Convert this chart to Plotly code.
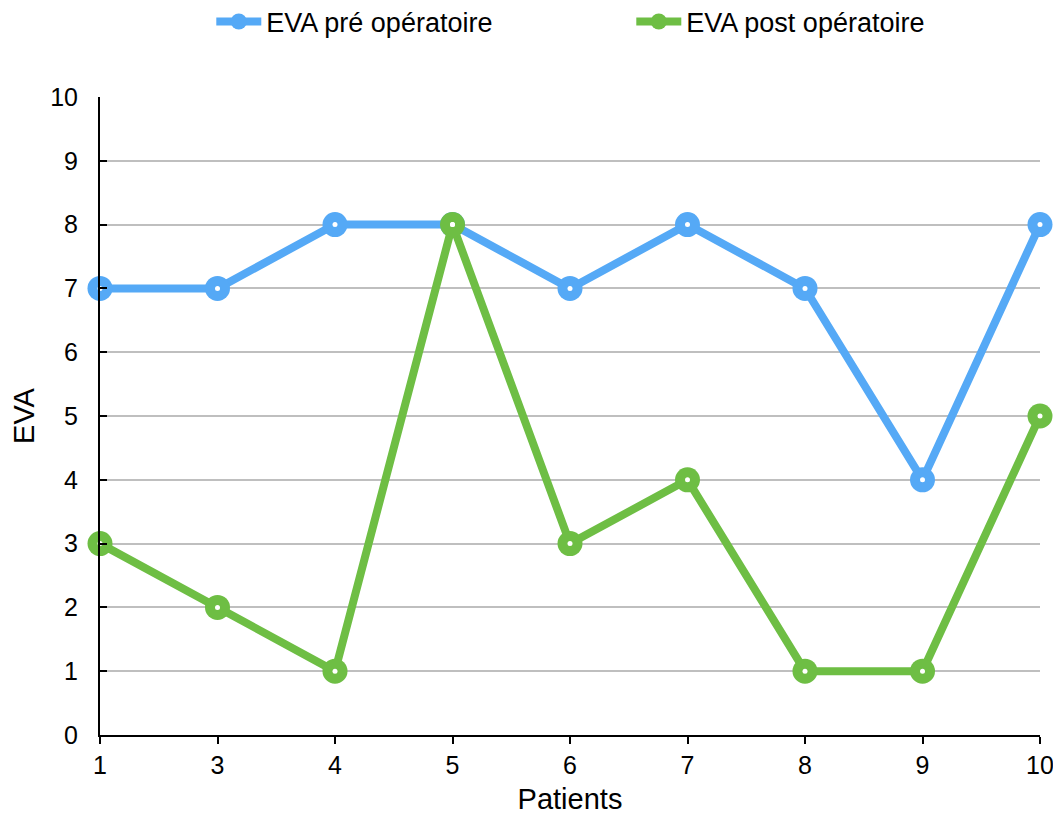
import plotly.graph_objects as go

patients = ["1", "3", "4", "5", "6", "7", "8", "9", "10"]
eva_pre = [7, 7, 8, 8, 7, 8, 7, 4, 8]
eva_post = [3, 2, 1, 8, 3, 4, 1, 1, 5]
y_ticks = list(range(0, 11))

blue = "#55A9F6"
green = "#6EBE44"
font = "Liberation Sans, Arial, sans-serif"

fig = go.Figure()
for name, vals, col in [("EVA pré opératoire", eva_pre, blue),
                        ("EVA post opératoire", eva_post, green)]:
    fig.add_trace(go.Scatter(x=patients, y=vals, name=name, mode="lines+markers",
                             cliponaxis=False,
                             line=dict(color=col, width=8),
                             marker=dict(symbol="circle", size=25, color=col,
                                         line=dict(width=0))))
for vals in [eva_pre, eva_post]:
    fig.add_trace(go.Scatter(x=patients, y=vals, mode="markers", showlegend=False,
                             hoverinfo="skip", cliponaxis=False,
                             marker=dict(symbol="circle", size=5, color="white",
                                         line=dict(width=0))))

fig.update_layout(
    width=1053, height=807,
    margin=dict(l=92, r=21, t=89, b=80, autoexpand=False),
    paper_bgcolor="white", plot_bgcolor="white",
    font=dict(family=font, size=25, color="black"),
    legend=dict(orientation="h", x=0.1184, xanchor="left", y=1.1176, yanchor="middle",
                itemwidth=45, entrywidth=360, font=dict(size=27)),
    xaxis=dict(type="category", range=[0, 8], showline=True, linecolor="black", linewidth=2,
               ticks="outside", ticklen=7, tickcolor="black", tickwidth=2,
               showgrid=False, title=dict(text="Patients", font=dict(size=29), standoff=16),
               tickfont=dict(size=25)),
    yaxis=dict(range=[0, 10], tickvals=y_ticks, showline=True, linecolor="black", linewidth=2,
               ticks="inside", ticklen=7, tickcolor="black", tickwidth=2,
               ticklabelstandoff=15,
               showgrid=True, gridcolor="#BFBFBF", gridwidth=2, zeroline=False,
               title=dict(text="EVA", font=dict(size=29), standoff=12),
               tickfont=dict(size=25)),
)
fig.add_shape(type="line", xref="paper", yref="paper", x0=0, x1=0, y0=0, y1=-7/638,
              line=dict(color="black", width=2))

fig.write_html("out.html")
